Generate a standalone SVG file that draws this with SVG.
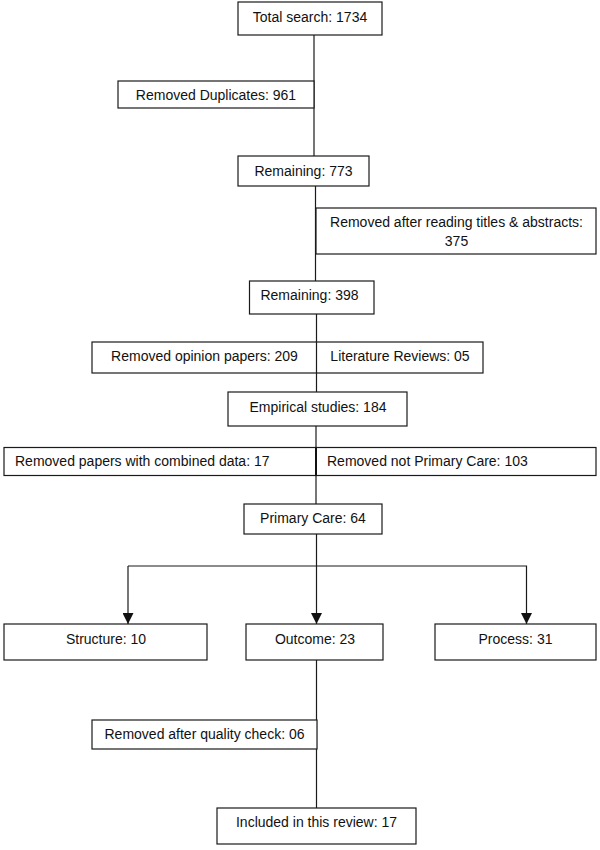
<svg xmlns="http://www.w3.org/2000/svg" width="600" height="850" viewBox="0 0 600 850">
<style>
.box{fill:#fff;stroke:#1a1a1a;stroke-width:1.2}
.t{font-family:"Liberation Sans",Arial,sans-serif;font-size:14px;fill:#111;text-anchor:middle}
.ts{font-family:"Liberation Sans",Arial,sans-serif;font-size:14px;fill:#111;text-anchor:start}
.c{fill:none;stroke:#1a1a1a;stroke-width:1.2}
</style>
<defs>
<marker id="arr" markerUnits="userSpaceOnUse" markerWidth="11" markerHeight="11" refX="11" refY="5.5" orient="auto" viewBox="0 0 11 11">
<path d="M0,0 L11,5.5 L0,11 Z" fill="#111"/>
</marker>
</defs>
<rect width="600" height="850" fill="#fff"/>
<g id="connectors">
<line class="c" x1="314" y1="35" x2="314" y2="156"/>
<line class="c" x1="315.5" y1="186" x2="315.5" y2="281"/>
<line class="c" x1="316.5" y1="314" x2="316.5" y2="392"/>
<line class="c" x1="316" y1="426" x2="316" y2="504"/>
<line class="c" x1="316.5" y1="534" x2="316.5" y2="566"/>
<polyline class="c" points="128,566 526.5,566 526.5,624" marker-end="url(#arr)"/>
<path class="c" d="M128,566 L128,624" marker-end="url(#arr)"/>
<line class="c" x1="316.5" y1="566" x2="316.5" y2="624" marker-end="url(#arr)"/>
<line class="c" x1="316.5" y1="660" x2="316.5" y2="808"/>
</g>
<g id="n1"><rect class="box" x="238" y="2" width="144" height="33"/><text class="t" x="310" y="22">Total search: 1734</text></g>
<g id="n2"><rect class="box" x="118" y="81" width="196" height="27"/><text class="t" x="216" y="100">Removed Duplicates: 961</text></g>
<g id="n3"><rect class="box" x="238" y="156" width="131" height="30"/><text class="t" x="303.5" y="176">Remaining: 773</text></g>
<g id="n4"><rect class="box" x="316" y="208" width="280" height="46"/><text class="t" x="456.5" y="226.5">Removed after reading titles &amp; abstracts:</text><text class="t" x="456.5" y="245.5">375</text></g>
<g id="n5"><rect class="box" x="249.5" y="281" width="124.5" height="33"/><text class="t" x="309.5" y="300">Remaining: 398</text></g>
<g id="n6"><rect class="box" x="92" y="342" width="391" height="31"/><line class="c" x1="316.5" y1="342" x2="316.5" y2="373"/><text class="t" x="204.5" y="360.5">Removed opinion papers: 209</text><text class="t" x="400" y="360.5">Literature Reviews: 05</text></g>
<g id="n7"><rect class="box" x="228" y="392" width="179" height="34"/><text class="t" x="318" y="411.5">Empirical studies: 184</text></g>
<g id="n8"><rect class="box" x="4" y="447.5" width="312" height="28"/><text class="ts" x="15" y="466">Removed papers with combined data: 17</text></g>
<g id="n9"><rect class="box" x="316" y="447.5" width="280" height="28"/><line x1="316" y1="447.5" x2="316" y2="475.5" stroke="#111" stroke-width="2"/><text class="ts" x="327" y="466">Removed not Primary Care: 103</text></g>
<g id="n10"><rect class="box" x="244" y="504" width="138" height="30"/><text class="t" x="313" y="522.5">Primary Care: 64</text></g>
<g id="n11"><rect class="box" x="4" y="624" width="203" height="36"/><text class="t" x="106" y="643.5">Structure: 10</text></g>
<g id="n12"><rect class="box" x="246" y="624" width="137" height="36"/><text class="t" x="315" y="643.5">Outcome: 23</text></g>
<g id="n13"><rect class="box" x="435" y="624" width="161" height="36"/><text class="t" x="515.5" y="643.5">Process: 31</text></g>
<g id="n14"><rect class="box" x="92" y="720" width="225" height="29"/><text class="t" x="204.5" y="738.5">Removed after quality check: 06</text></g>
<g id="n15"><rect class="box" x="217" y="808" width="199" height="36"/><text class="t" x="316.5" y="827">Included in this review: 17</text></g>
</svg>
